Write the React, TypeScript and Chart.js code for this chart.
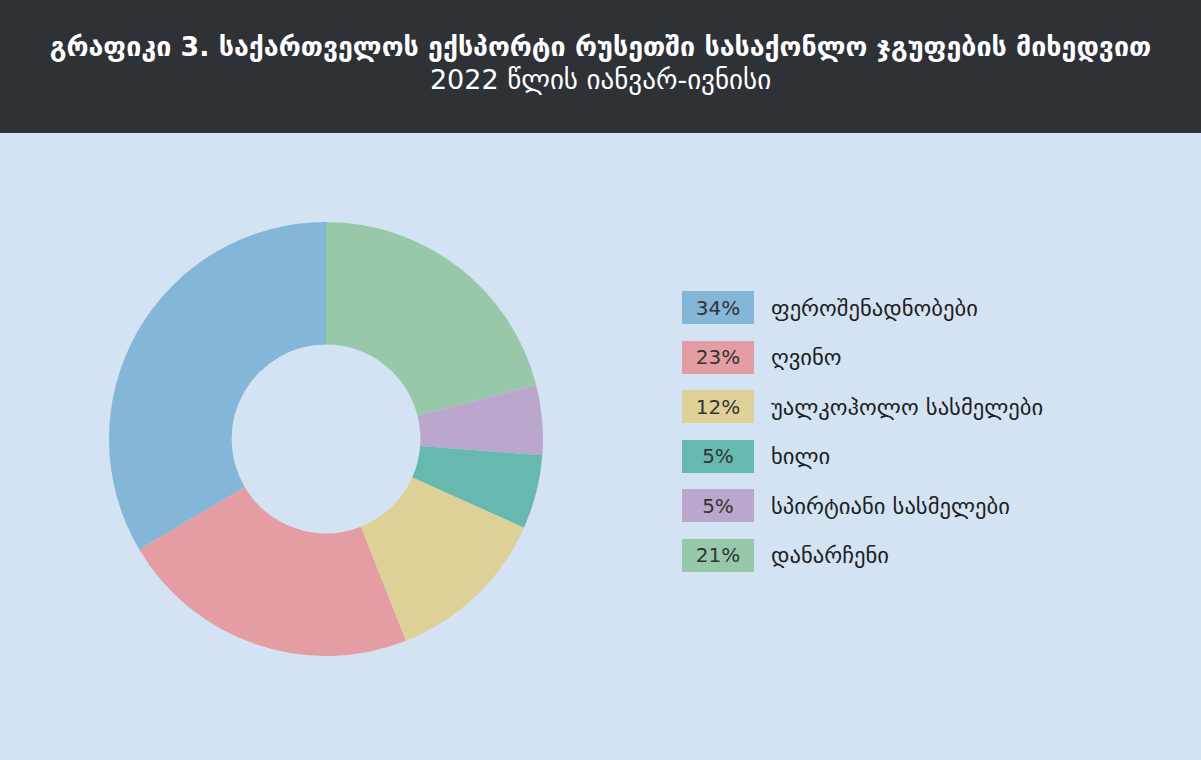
import React, { useEffect, useRef } from "react";
import { Chart, registerables } from "chart.js";

Chart.register(...registerables);

const TITLE = "გრაფიკი 3. საქართველოს ექსპორტი რუსეთში სასაქონლო ჯგუფების მიხედვით";
const SUBTITLE = "2022 წლის იანვარ-ივნისი";

const categories = [
  "ფეროშენადნობები",
  "ღვინო",
  "უალკოჰოლო სასმელები",
  "ხილი",
  "სპირტიანი სასმელები",
  "დანარჩენი",
];
const shares = [33.5, 22.5, 12.3, 5.5, 5.2, 21.0];
const percentLabels = ["34%", "23%", "12%", "5%", "5%", "21%"];
const colors = ["#84b6d7", "#e49da3", "#ddd198", "#67b9b0", "#bba7cc", "#98c8aa"];

export default function App() {
  const canvasRef = useRef<HTMLCanvasElement | null>(null);

  useEffect(() => {
    document.body.style.margin = "0";
    const ctx = canvasRef.current;
    if (!ctx) return;
    // chart draws clockwise from top starting with the last category
    const order = categories.map((_, i) => i).reverse();
    const chart = new Chart(ctx, {
      type: "doughnut",
      data: {
        labels: order.map((i) => categories[i]),
        datasets: [
          {
            data: order.map((i) => shares[i]),
            backgroundColor: order.map((i) => colors[i]),
            borderWidth: 0,
          },
        ],
      },
      options: {
        animation: false,
        responsive: false,
        maintainAspectRatio: false,
        cutout: "43.5%",
        layout: { padding: 0 },
        plugins: {
          legend: { display: false },
          tooltip: { enabled: false },
          title: { display: false },
        },
      },
    });
    return () => chart.destroy();
  }, []);

  const georgianFont = "'DejaVu Sans', 'Noto Sans', sans-serif";

  return (
    <div
      style={{
        position: "absolute",
        left: 0,
        top: 0,
        width: 1201,
        height: 760,
        background: "#d4e3f3",
        overflow: "hidden",
        fontFamily: georgianFont,
      }}
    >
      <div
        style={{
          position: "absolute",
          left: 0,
          top: 0,
          width: 1201,
          height: 133,
          background: "#2e3136",
          color: "#ffffff",
          textAlign: "center",
        }}
      >
        <div
          style={{
            position: "absolute",
            left: 0,
            width: 1201,
            top: 29,
            fontSize: 26.8,
            fontWeight: "bold",
            lineHeight: "36px",
            whiteSpace: "nowrap",
          }}
        >
          {TITLE}
        </div>
        <div
          style={{
            position: "absolute",
            left: 0,
            width: 1201,
            top: 62,
            fontSize: 27,
            lineHeight: "36px",
            whiteSpace: "nowrap",
          }}
        >
          {SUBTITLE}
        </div>
      </div>

      <canvas
        ref={canvasRef}
        width={434}
        height={434}
        style={{ position: "absolute", left: 109, top: 221.5, width: 434, height: 434 }}
      />

      {categories.map((c, i) => (
        <div
          key={c}
          style={{
            position: "absolute",
            left: 682,
            top: 291 + i * 49.5,
            height: 33,
            display: "flex",
            alignItems: "center",
          }}
        >
          <div
            style={{
              width: 72,
              height: 33,
              background: colors[i],
              color: "#333333",
              fontFamily: "'DejaVu Sans', sans-serif",
              fontSize: 20,
              display: "flex",
              alignItems: "center",
              justifyContent: "center",
            }}
          >
            {percentLabels[i]}
          </div>
          <div
            style={{
              marginLeft: 17,
              fontSize: 22.6,
              color: "#1e1e1e",
              whiteSpace: "nowrap",
            }}
          >
            {c}
          </div>
        </div>
      ))}
    </div>
  );
}
